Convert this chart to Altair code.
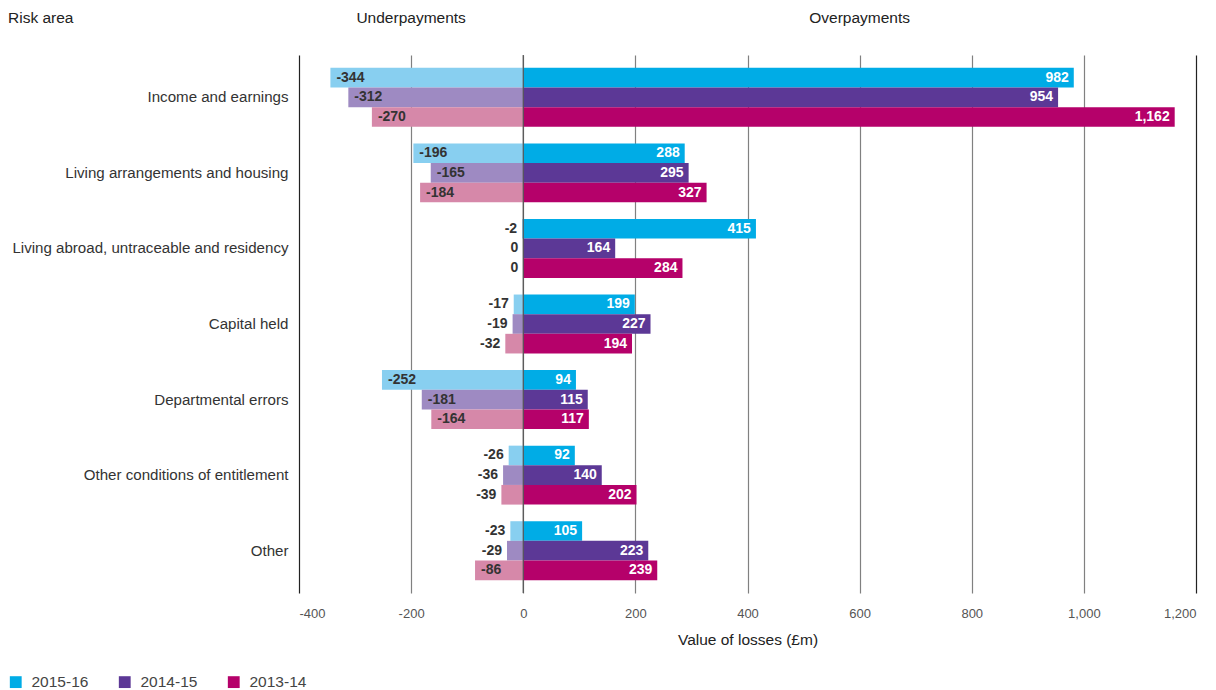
import altair as alt
import pandas as pd

categories = [
    "Income and earnings",
    "Living arrangements and housing",
    "Living abroad, untraceable and residency",
    "Capital held",
    "Departmental errors",
    "Other conditions of entitlement",
    "Other",
]
years = ["2015-16", "2014-15", "2013-14"]

over_2015_16 = [982, 288, 415, 199, 94, 92, 105]
over_2014_15 = [954, 295, 164, 227, 115, 140, 223]
over_2013_14 = [1162, 327, 284, 194, 117, 202, 239]

under_2015_16 = [-344, -196, -2, -17, -252, -26, -23]
under_2014_15 = [-312, -165, 0, -19, -181, -36, -29]
under_2013_14 = [-270, -184, 0, -32, -164, -39, -86]

x_ticks = [-400, -200, 0, 200, 400, 600, 800, 1000, 1200]

dark_colors = ["#00ACE6", "#5C3896", "#B5016A"]
light_colors = ["#88CFF0", "#9E8AC2", "#D688A9"]

over = {"2015-16": over_2015_16, "2014-15": over_2014_15, "2013-14": over_2013_14}
under = {"2015-16": under_2015_16, "2014-15": under_2014_15, "2013-14": under_2013_14}

rows = []
for y in years:
    for i, c in enumerate(categories):
        o = over[y][i]
        u = under[y][i]
        rows.append({
            "category": c, "year": y,
            "over": o, "under": u,
            "over_label": f"{o:,}", "under_label": f"{u:,}",
        })
df = pd.DataFrame(rows)

FONT = "Liberation Sans"

xscale = alt.Scale(domain=[-400, 1200], nice=False)
yscale = alt.Scale(domain=categories, paddingInner=0.22, paddingOuter=0.17)

x_axis = alt.Axis(
    values=x_ticks,
    title="Value of losses (£m)",
    labelExpr="datum.value < 0 ? '-' + format(-datum.value, ',') : format(datum.value, ',')",
    grid=True,
    gridColor={"condition": {"test": "datum.value === -400 || datum.value === 1200", "value": "#222222"}, "value": "#808080"},
    gridWidth=1.2,
    domain=False,
    ticks=False,
    labelPadding=14,
    labelFontSize=13,
    labelColor="#555555",
    titleFontSize=15.5,
    titleFontWeight="normal",
    titleColor="#222222",
    titlePadding=12,
)
y_axis = alt.Axis(
    title=None, domain=False, ticks=False, grid=False,
    labelPadding=11, labelFontSize=15.1, labelColor="#333333", labelLimit=400,
)

base = alt.Chart(df)

y_enc = alt.Y("category:N", scale=yscale, axis=y_axis, sort=categories)
yoff = alt.YOffset("year:N", sort=years, scale=alt.Scale(domain=years, paddingInner=0, paddingOuter=0))

under_bars = base.mark_bar().encode(
    x=alt.X("under:Q", scale=xscale, axis=x_axis),
    x2=alt.datum(0),
    y=y_enc,
    yOffset=yoff,
    color=alt.Color("year:N", scale=alt.Scale(domain=years, range=light_colors), legend=None),
)

over_bars = base.mark_bar().encode(
    x=alt.X("over:Q", scale=xscale),
    x2=alt.datum(0),
    y=y_enc,
    yOffset=yoff,
    color=alt.Color(
        "year:N", sort=years,
        scale=alt.Scale(domain=years, range=dark_colors),
        legend=alt.Legend(
            title=None, orient="none", direction="horizontal",
            legendX=-291, legendY=619,
            symbolType="square", symbolSize=140, symbolStrokeWidth=0,
            labelFontSize=15.5, labelColor="#444444", labelOffset=8,
            columnPadding=28,
        ),
    ),
)

zero_rule = alt.Chart(pd.DataFrame({"v": [0]})).mark_rule(color="#555555", strokeWidth=1.2).encode(
    x=alt.X("v:Q", scale=xscale),
)

over_text = base.mark_text(align="right", baseline="middle", dx=-5, fontWeight="bold",
                           fontSize=14, color="white").encode(
    x=alt.X("over:Q", scale=xscale),
    y=y_enc, yOffset=yoff, text="over_label:N",
)

under_in = base.transform_filter("datum.under <= -60").mark_text(
    align="left", baseline="middle", dx=6, fontWeight="bold", fontSize=14, color="#333333").encode(
    x=alt.X("under:Q", scale=xscale),
    y=y_enc, yOffset=yoff, text="under_label:N",
)
under_out = base.transform_filter("datum.under > -60").mark_text(
    align="right", baseline="middle", dx=-5, fontWeight="bold", fontSize=14, color="#333333").encode(
    x=alt.X("under:Q", scale=xscale),
    y=y_enc, yOffset=yoff, text="under_label:N",
)

hdr = alt.Chart(pd.DataFrame({"t": ["Risk area"]})).mark_text(
    align="left", baseline="middle", fontSize=15.5, color="#222222").encode(
    x=alt.value(-291), y=alt.value(-37), text="t:N")
hdr_under = alt.Chart(pd.DataFrame({"t": ["Underpayments"], "v": [-200]})).mark_text(
    align="center", baseline="middle", fontSize=15.5, color="#222222").encode(
    x=alt.X("v:Q", scale=xscale), y=alt.value(-37), text="t:N")
hdr_over = alt.Chart(pd.DataFrame({"t": ["Overpayments"], "v": [600]})).mark_text(
    align="center", baseline="middle", fontSize=15.5, color="#222222").encode(
    x=alt.X("v:Q", scale=xscale), y=alt.value(-37), text="t:N")

chart = alt.layer(
    under_bars, over_bars, zero_rule, over_text, under_in, under_out, hdr, hdr_under, hdr_over
).resolve_scale(color="independent").properties(
    width=897, height=538,
    autosize=alt.AutoSizeParams(type="none"),
    padding={"left": 291, "top": 47, "right": 12, "bottom": 97},
).configure(font=FONT).configure_view(stroke=None)

chart.save("out.html", embed_options={"renderer": "svg", "actions": False})
